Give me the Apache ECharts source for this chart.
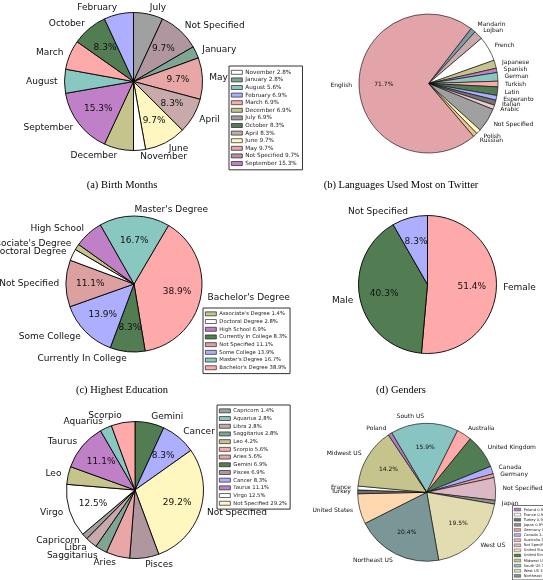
<!DOCTYPE html>
<html>
<head>
<meta charset="utf-8">
<script src="https://cdn.jsdelivr.net/npm/echarts@6/dist/echarts.min.js"></script>
<style>
  html, body { margin: 0; padding: 0; background: #fff; }
  #chart { width: 543px; height: 580px; }
</style>
</head>
<body>
<div id="chart"></div>
<script>
// slices listed clockwise, starting where each pie starts
// (a) birth months
var monthNames = ['July', 'Not Specified', 'January', 'May', 'April', 'June', 'November',
  'December', 'September', 'August', 'March', 'October', 'February'];
var monthValues = [6.9, 9.7, 2.8, 9.7, 8.3, 9.7, 2.8, 6.9, 15.3, 5.6, 6.9, 8.3, 6.9];
var monthLegend = ['November', 'January', 'August', 'February', 'March', 'December', 'July',
  'October', 'April', 'June', 'May', 'Not Specified', 'September'];

// (b) languages
var langNames = ['Mandarin', 'Lojban', 'French', 'Japanese', 'Spanish', 'German', 'Turkish', 'Latin',
  'Esperanto', 'Italian', 'Arabic', 'Not Specified', 'Polish', 'Russian', 'English'];
var langValues = [1.2, 2.1, 5.8, 1.9, 1.0, 2.0, 1.3, 2.0, 1.1, 1.2, 1.0, 5.6, 1.1, 1.0, 71.7];

// (c) education
var eduNames = ["Bachelor's Degree", 'Currently In College', 'Some College', 'Not Specified',
  'Doctoral Degree', "Associate's Degree", 'High School', "Master's Degree"];
var eduValues = [38.9, 8.3, 13.9, 11.1, 2.8, 1.4, 6.9, 16.7];
var eduLegend = ["Associate's Degree", 'Doctoral Degree', 'High School', 'Currently In College',
  'Not Specified', 'Some College', "Master's Degree", "Bachelor's Degree"];

// (d) genders
var genderNames = ['Female', 'Male', 'Not Specified'];
var genderValues = [51.4, 40.3, 8.3];

// (e) zodiac signs
var zodiacNames = ['Gemini', 'Cancer', 'Not Specified', 'Pisces', 'Aries', 'Saggitarius', 'Libra',
  'Capricorn', 'Virgo', 'Leo', 'Taurus', 'Aquarius', 'Scorpio'];
var zodiacValues = [6.9, 8.3, 29.2, 6.9, 5.6, 2.8, 2.8, 1.4, 12.5, 4.2, 11.1, 2.8, 5.6];
var zodiacLegend = ['Capricorn', 'Aquarius', 'Libra', 'Saggitarius', 'Leo', 'Scorpio', 'Aries',
  'Gemini', 'Pisces', 'Cancer', 'Taurus', 'Virgo', 'Not Specified'];

// (f) locations
var locNames = ['South US', 'Australia', 'United Kingdom', 'Canada', 'Germany', 'Not Specified',
  'Japan', 'West US', 'Northeast US', 'United States', 'Turkey', 'France', 'Midwest US', 'Poland'];
var locValues = [15.9, 3.5, 8.0, 1.8, 0.9, 5.3, 0.9, 19.5, 20.4, 7.1, 0.9, 0.9, 14.2, 0.9];
var locLegend = ['Poland', 'France', 'Turkey', 'Japan', 'Germany', 'Canada', 'Australia',
  'Not Specified', 'United States', 'United Kingdom', 'Midwest US', 'South US', 'West US', 'Northeast US'];

var captions = ['(a) Birth Months', '(b) Languages Used Most on Twitter',
  '(c) Highest Education', '(d) Genders'];

// colours, same order as the names above
var monthColors = ['#a0a0a0', '#b0979f', '#7fa595', '#e8a6a6', '#c8aaaa', '#fff6c0', '#ffffff',
  '#c4c48c', '#c080c8', '#88c8c0', '#ffaaaa', '#527c52', '#aeaeff'];
var langColors = ['#7c9cac', '#c8aaaa', '#ffffff', '#c4c48c', '#c080c8', '#88c8c0', '#ffaaaa',
  '#527c52', '#aeaeff', '#747474', '#f0c8d0', '#a0a0a0', '#fff6c0', '#e0c890', '#e2a4a8'];
var eduColors = ['#ffaaaa', '#527c52', '#aeaeff', '#dca0a0', '#ffffff', '#c4c48c', '#c080c8', '#88c8c0'];
var genderColors = ['#ffaaaa', '#527c52', '#aeaeff'];
var zodiacColors = ['#527c52', '#aeaeff', '#fff6c0', '#b0979f', '#e8a6a6', '#7fa595', '#c8aaaa',
  '#a0a0a0', '#ffffff', '#c4c48c', '#c080c8', '#88c8c0', '#ffaaaa'];
var locColors = ['#88c4c2', '#ffaaaa', '#527c52', '#aeaeff', '#e8a0a0', '#dcb8c4', '#909090',
  '#e2dcb0', '#7a9696', '#ffd8b0', '#707070', '#ffffff', '#c4c48c', '#b080b8'];

var FONT = '"DejaVu Sans", sans-serif';

function pieSeries(names, values, colors, center, r, startAngle, fs, bw) {
  var base = {
    type: 'pie', center: center, radius: [0, r], startAngle: startAngle, clockwise: true,
    avoidLabelOverlap: false, silent: true, animation: false,
    itemStyle: { borderColor: '#000', borderWidth: bw },
    label: { show: true, position: 'outside', formatter: '{b}', fontSize: fs, fontFamily: FONT,
      color: '#111', overflow: 'none', distanceToLabelLine: 0 },
    labelLine: { show: false, length: r * 0.1, length2: 0 },
    labelLayout: { hideOverlap: false },
    emphasis: { disabled: true },
    data: names.map(function (n, i) {
      return { name: n, value: values[i], itemStyle: { color: colors[i] } };
    })
  };
  // transparent ring so the percentages sit at 0.6 r
  var pct = {
    type: 'pie', center: center, radius: [r * 0.2, r], startAngle: startAngle, clockwise: true,
    avoidLabelOverlap: false, silent: true, animation: false, z: 3,
    itemStyle: { color: 'rgba(0,0,0,0)', borderWidth: 0 },
    label: { show: true, position: 'inside', fontSize: fs, fontFamily: FONT, color: '#111',
      textBorderWidth: 0,
      formatter: function (p) { return p.value >= 8.2 ? p.value.toFixed(1) + '%' : ''; } },
    labelLine: { show: false },
    labelLayout: { hideOverlap: false },
    emphasis: { disabled: true },
    data: names.map(function (n, i) { return { name: n, value: values[i] }; })
  };
  return [base, pct];
}

function makeLegend(order, names, values, colors, o) {
  return {
    orient: 'vertical', left: o.left, top: o.top, selectedMode: false, icon: 'rect',
    itemWidth: o.iw, itemHeight: o.ih, itemGap: 0, padding: o.pad,
    backgroundColor: '#fff', borderColor: '#333', borderWidth: o.bw, borderRadius: 0,
    textStyle: { fontSize: o.fs, lineHeight: o.lh, fontFamily: FONT, color: '#222', padding: [0, 0, 0, -2] },
    data: order.map(function (n) {
      var i = names.indexOf(n);
      return { name: n, itemStyle: { color: colors[i], borderColor: '#222', borderWidth: o.ib } };
    }),
    formatter: function (n) { return n + ' ' + values[names.indexOf(n)].toFixed(1) + '%'; }
  };
}

var series = [].concat(
  pieSeries(monthNames, monthValues, monthColors, [133.5, 81.5], 69, 90, 9, 0.9),
  pieSeries(langNames, langValues, langColors, [428.5, 83.5], 69.5, 52.3, 6, 0.6),
  pieSeries(eduNames, eduValues, eduColors, [134, 284], 68, 59.5, 9, 0.9),
  pieSeries(genderNames, genderValues, genderColors, [427.5, 284.5], 69, 90, 9, 0.9),
  pieSeries(zodiacNames, zodiacValues, zodiacColors, [135, 490], 68.5, 90, 9, 0.9),
  pieSeries(locNames, locValues, locColors, [426.7, 492.3], 69, 120.5, 6, 0.6)
);

var legends = [
  makeLegend(monthLegend, monthNames, monthValues, monthColors,
    { left: 229, top: 66, iw: 11, ih: 4, pad: [2.5, 3, 2.5, 2], bw: 1, fs: 5.7, lh: 7.6, ib: 0.7 }),
  makeLegend(eduLegend, eduNames, eduValues, eduColors,
    { left: 203, top: 308, iw: 11, ih: 4, pad: [2, 3, 2, 2], bw: 1, fs: 5.3, lh: 7.7, ib: 0.7 }),
  makeLegend(zodiacLegend, zodiacNames, zodiacValues, zodiacColors,
    { left: 217, top: 405, iw: 11, ih: 4, pad: [2, 3, 2, 2], bw: 1, fs: 5.3, lh: 7.7, ib: 0.7 }),
  makeLegend(locLegend, locNames, locValues, locColors,
    { left: 512.5, top: 505.5, iw: 6.5, ih: 2.8, pad: [1.5, 2, 1.5, 1.5], bw: 0.7, fs: 3.7, lh: 5.1, ib: 0.4 })
];

var captionPos = [[122, 185.5], [401, 185.5], [122, 390], [401, 390]];

var chart = echarts.init(document.getElementById('chart'));
chart.setOption({
  animation: false,
  backgroundColor: '#fff',
  legend: legends,
  series: series,
  graphic: captions.map(function (t, i) {
    return {
      type: 'text', x: captionPos[i][0], y: captionPos[i][1], silent: true,
      style: { text: t, fill: '#000', font: '10.5px "Liberation Serif", serif',
        textAlign: 'center', textVerticalAlign: 'middle' }
    };
  })
});
</script>
</body>
</html>
